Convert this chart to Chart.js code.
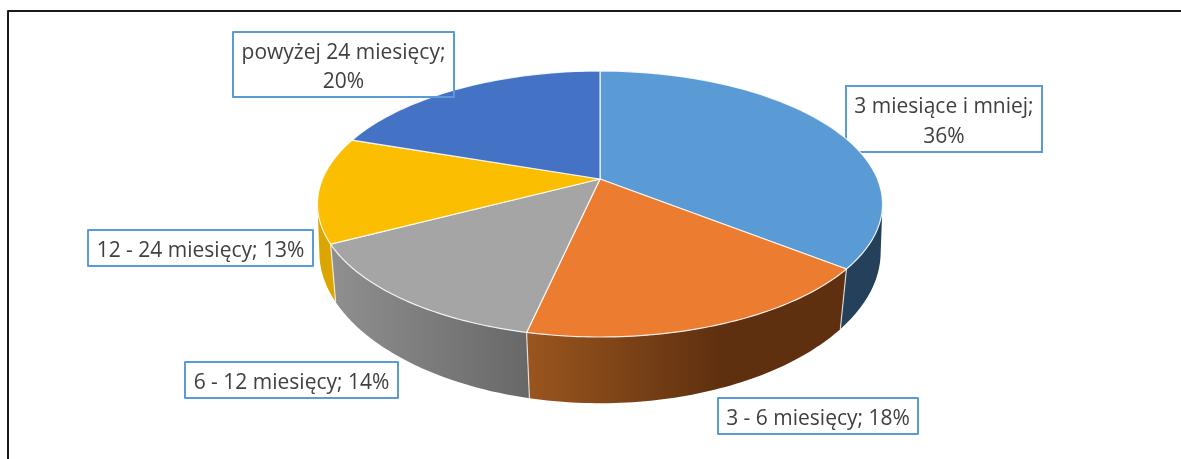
<!DOCTYPE html>
<html>
<head>
<meta charset="utf-8">
<script src="https://cdn.jsdelivr.net/npm/chart.js@4"></script>
<style>
  html, body { margin: 0; padding: 0; background: #fff; }
  canvas { display: block; }
</style>
</head>
<body>
<canvas id="pie3d" width="1181" height="459"></canvas>
<script>
var categories = ["3 miesiące i mniej", "3 - 6 miesięcy", "6 - 12 miesięcy", "12 - 24 miesięcy", "powyżej 24 miesięcy"];
var shares = [36, 18, 14, 13, 20];
var topColors = ["#5b9bd5", "#ec7c30", "#a5a5a5", "#fbbe00", "#4472c4"];
var wallColorsLeft = ["#24405a", "#99551f", "#8e8e8e", "#dba600", "#2a4a80"];
var wallColorsRight = ["#24405a", "#5f300f", "#686868", "#dba600", "#2a4a80"];

// label boxes: [left, top, right, bottom], then the baselines of the text lines
var labelBoxes = [
  [845, 85, 1043, 153],
  [717, 397, 919, 435],
  [184, 361, 399, 399],
  [87, 229, 314, 267],
  [232, 31, 455, 98]
];
var labelLines = [
  [["3 miesiące i mniej;", 113], ["36%", 143]],
  [["3 - 6 miesięcy; 18%", 425]],
  [["6 - 12 miesięcy; 14%", 389]],
  [["12 - 24 miesięcy; 13%", 257]],
  [["powyżej 24 miesięcy;", 59], ["20%", 88]]
];

// perspective of the disc, worked out from the slice corners in the picture
var tilt = 0.188;
var squash = 0.4623;

function project(el, a) {
  var d = 1 - tilt * Math.sin(a);
  return {
    x: el.x + el.outerRadius * Math.cos(a) / d,
    y: el.y + el.outerRadius * squash * Math.sin(a) / d
  };
}

function lower(el, p, a) {
  var f = 1 - 0.04 * Math.max(0, Math.sin(a));
  return {
    x: el.x + (p.x - el.x) * f,
    y: el.y + (p.y - el.y) * 1.09 + 52
  };
}

function quadArea(q) {
  var sum = 0;
  for (var i = 0; i < 4; i++) {
    var n = q[(i + 1) % 4];
    sum += q[i].x * n.y - n.x * q[i].y;
  }
  return sum / 2;
}

function drawBox(ctx, box) {
  ctx.strokeStyle = "#5b9bd5";
  ctx.lineWidth = 2;
  ctx.strokeRect(box[0] + 1, box[1] + 1, box[2] - box[0] - 2, box[3] - box[1] - 2);
}

var pie3d = {
  id: "pie3d",
  beforeDatasetDraw: function (chart, args) {
    var ctx = chart.ctx;
    var arcs = args.meta.data;
    var steps = 60;

    // this one box sits behind the pie in the original
    drawBox(ctx, labelBoxes[0]);

    // walls: only the quads facing the viewer, all in one path so there are no seams
    arcs.forEach(function (el, i) {
      var p = el.getProps(["x", "y", "startAngle", "endAngle", "outerRadius"]);
      var grad = ctx.createLinearGradient(530, 0, 720, 0);
      if (i == 2) grad = ctx.createLinearGradient(338, 0, 528, 0);
      grad.addColorStop(0, wallColorsLeft[i]);
      grad.addColorStop(1, wallColorsRight[i]);
      ctx.beginPath();
      for (var s = 0; s < steps; s++) {
        var a0 = p.startAngle + (p.endAngle - p.startAngle) * s / steps;
        var a1 = p.startAngle + (p.endAngle - p.startAngle) * (s + 1) / steps;
        var t0 = project(p, a0);
        var t1 = project(p, a1);
        var q = [t0, t1, lower(p, t1, a1), lower(p, t0, a0)];
        if (quadArea(q) >= 0) continue;
        ctx.moveTo(q[0].x, q[0].y);
        ctx.lineTo(q[1].x, q[1].y);
        ctx.lineTo(q[2].x, q[2].y);
        ctx.lineTo(q[3].x, q[3].y);
        ctx.closePath();
      }
      ctx.fillStyle = grad;
      ctx.fill();
    });

    // edges between the walls
    arcs.forEach(function (el) {
      var p = el.getProps(["x", "y", "startAngle", "endAngle", "outerRadius"]);
      var t = project(p, p.startAngle);
      if (t.y < p.y + 20) return;
      var b = lower(p, t, p.startAngle);
      ctx.beginPath();
      ctx.moveTo(t.x, t.y);
      ctx.lineTo(b.x, b.y);
      ctx.strokeStyle = "rgba(255,255,255,0.75)";
      ctx.lineWidth = 1.2;
      ctx.stroke();
    });

    arcs.forEach(function (el, i) {
      var p = el.getProps(["x", "y", "startAngle", "endAngle", "outerRadius"]);
      ctx.beginPath();
      ctx.moveTo(p.x, p.y);
      for (var s = 0; s <= steps; s++) {
        var pt = project(p, p.startAngle + (p.endAngle - p.startAngle) * s / steps);
        ctx.lineTo(pt.x, pt.y);
      }
      ctx.closePath();
      ctx.fillStyle = topColors[i];
      ctx.fill();
      ctx.strokeStyle = "rgba(255,255,255,0.85)";
      ctx.lineWidth = 1.2;
      ctx.lineJoin = "round";
      ctx.stroke();
    });
    return false;
  },
  afterDraw: function (chart) {
    var ctx = chart.ctx;
    // page frame
    ctx.strokeStyle = "#1a1a1a";
    ctx.lineWidth = 2;
    ctx.beginPath();
    ctx.moveTo(8, 459);
    ctx.lineTo(8, 11);
    ctx.lineTo(1181, 11);
    ctx.stroke();

    ctx.font = "21px 'Open Sans'";
    ctx.textAlign = "center";
    ctx.textBaseline = "alphabetic";
    labelBoxes.forEach(function (box, i) {
      if (i > 0) drawBox(ctx, box);
      ctx.fillStyle = "#404040";
      labelLines[i].forEach(function (line) {
        ctx.fillText(line[0], (box[0] + box[2]) / 2, line[1]);
      });
    });
  }
};

var ctx = document.getElementById("pie3d").getContext("2d");
var myChart = new Chart(ctx, {
  type: "pie",
  data: {
    labels: categories,
    datasets: [
      {
        data: shares,
        backgroundColor: topColors,
        borderWidth: 0,
      },
    ],
  },
  options: {
    responsive: false,
    animation: false,
    radius: 277.5,
    layout: { padding: { left: 19, bottom: 101 } },
    plugins: {
      legend: { display: false },
      tooltip: { enabled: false },
    },
  },
  plugins: [pie3d],
});
</script>
</body>
</html>
